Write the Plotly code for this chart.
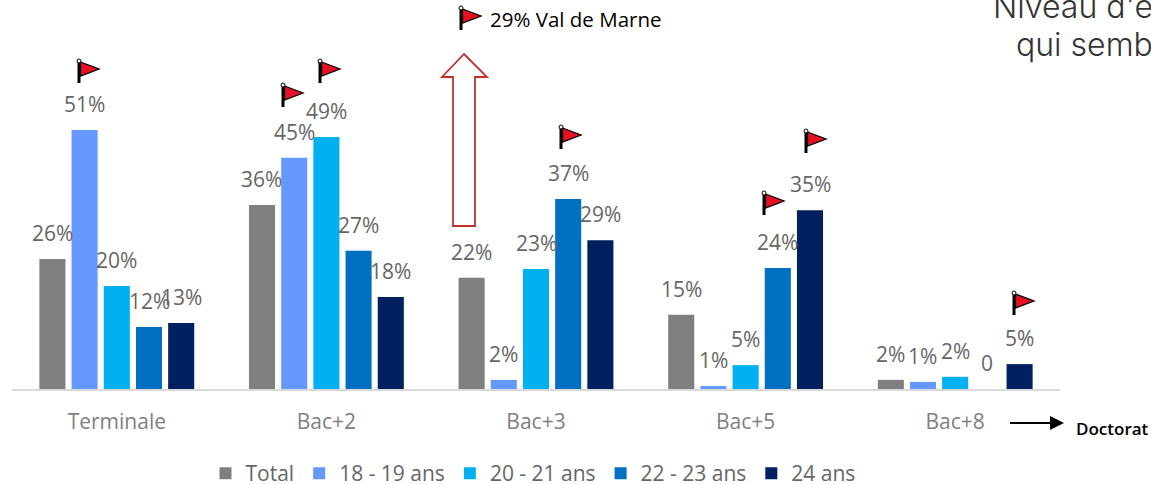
import plotly.graph_objects as go

categories = ["Terminale", "Bac+2", "Bac+3", "Bac+5", "Bac+8"]
total = [25.6, 36.2, 21.9, 14.6, 1.8]
age_18_19 = [51.0, 45.5, 1.8, 0.6, 1.4]
age_20_21 = [20.3, 49.6, 23.6, 4.7, 2.4]
age_22_23 = [12.2, 27.2, 37.4, 23.8, 0.0]
age_24 = [13.0, 18.1, 29.3, 35.2, 4.9]
labels_total = ["26%", "36%", "22%", "15%", "2%"]
labels_18_19 = ["51%", "45%", "2%", "1%", "1%"]
labels_20_21 = ["20%", "49%", "23%", "5%", "2%"]
labels_22_23 = ["12%", "27%", "37%", "24%", "0"]
labels_24 = ["13%", "18%", "29%", "35%", "5%"]

series = [
    ("Total", total, labels_total, "#7F7F7F"),
    ("18 - 19 ans", age_18_19, labels_18_19, "#6699FF"),
    ("20 - 21 ans", age_20_21, labels_20_21, "#00B0F0"),
    ("22 - 23 ans", age_22_23, labels_22_23, "#0070C0"),
    ("24 ans", age_24, labels_24, "#002060"),
]

W, H = 1151, 484
L, R, B = 12, 1060, 389
FONT = "Open Sans"
GREY = "#666666"


def px(x):
    return (x - L) / (R - L)


def py(y):
    return (B - y) / B


def path(points):
    return "M" + " L".join(f"{px(x):.5f},{py(y):.5f}" for x, y in points) + " Z"


fig = go.Figure()
for name, values, _, color in series:
    fig.add_bar(name=name, x=categories, y=values, marker_color=color,
                marker_line_width=0, cliponaxis=False)

annotations = []
GROUP_STEP = 0.1539
for s_idx, (name, values, texts, _) in enumerate(series):
    for c_idx, (v, t) in enumerate(zip(values, texts)):
        annotations.append(dict(x=c_idx + (s_idx - 2) * GROUP_STEP, y=v, text=t, showarrow=False,
                                xref="x", yref="y", yanchor="middle", yshift=26,
                                font=dict(family=FONT, size=21, color=GREY)))


def note(x, y, text, size, color="#000000", anchor="left", weight=None, family=FONT):
    annotations.append(dict(x=px(x), y=py(y), xref="paper", yref="paper", text=text, showarrow=False,
                            xanchor=anchor, yanchor="middle",
                            font=dict(family=family, size=size, color=color, weight=weight)))


note(488, 19, "29% Val de Marne", 20.5)
note(1074, 428, "Doctorat", 17, weight=600)
note(991, 6, "Niveau d'é", 32, "#333333", family="Inter", weight=300)
note(1014, 44, "qui semb", 32, "#333333", family="Inter", weight=300)

shapes = []
flag_spots = [(79, 60), (283, 84), (320, 60), (461, 7), (561, 126),
              (806, 130), (764, 192), (1014, 292)]
for fx, fy in flag_spots:
    shapes.append(dict(type="path", xref="paper", yref="paper", fillcolor="#000000", line_width=0,
                       path=path([(fx - 1.5, fy + 1), (fx + 1.5, fy + 1), (fx + 1.5, fy + 23), (fx - 1.5, fy + 23)])))
    shapes.append(dict(type="path", xref="paper", yref="paper", fillcolor="#E81123",
                       line=dict(color="#000000", width=1.3),
                       path=path([(fx + 1.5, fy + 2), (fx + 20, fy + 9), (fx + 1.5, fy + 16)])))
    shapes.append(dict(type="circle", xref="paper", yref="paper", fillcolor="#FFFFFF",
                       line=dict(color="#000000", width=1),
                       x0=px(fx - 2), x1=px(fx + 2), y0=py(fy + 3), y1=py(fy - 1)))

shapes.append(dict(type="path", xref="paper", yref="paper", fillcolor="#FFFFFF",
                   line=dict(color="#C0302F", width=1.8),
                   path=path([(464, 54), (487, 77), (475, 77), (475, 226), (453, 226), (453, 77), (442, 77)])))
shapes.append(dict(type="line", xref="paper", yref="paper", x0=px(1010), x1=px(1052), y0=py(423), y1=py(423),
                   line=dict(color="#000000", width=1.8)))
shapes.append(dict(type="path", xref="paper", yref="paper", fillcolor="#000000", line_width=0,
                   path=path([(1050, 416), (1064, 423), (1050, 430)])))

fig.update_layout(
    width=W, height=H, margin=dict(l=L, r=W - R, t=0, b=H - B, autoexpand=False),
    paper_bgcolor="#FFFFFF", plot_bgcolor="#FFFFFF",
    barmode="group", bargap=0.232, bargroupgap=0.19,
    font=dict(family=FONT, color=GREY),
    annotations=annotations, shapes=shapes,
    xaxis=dict(type="category", showline=True, linecolor="#D9D9D9", linewidth=2, showgrid=False,
               ticks="", ticklabelstandoff=13, tickfont=dict(family=FONT, size=21, color="#7F7F7F")),
    yaxis=dict(visible=False, range=[0, B / 5.08], fixedrange=True),
    legend=dict(orientation="h", x=px(533), xanchor="center", y=py(453), yanchor="top",
                font=dict(family=FONT, size=21, color=GREY), itemwidth=30, traceorder="normal"),
)
fig.write_html("out.html", config={"displayModeBar": False},
               post_script="document.body.style.margin='0';document.body.style.overflow='hidden';")
